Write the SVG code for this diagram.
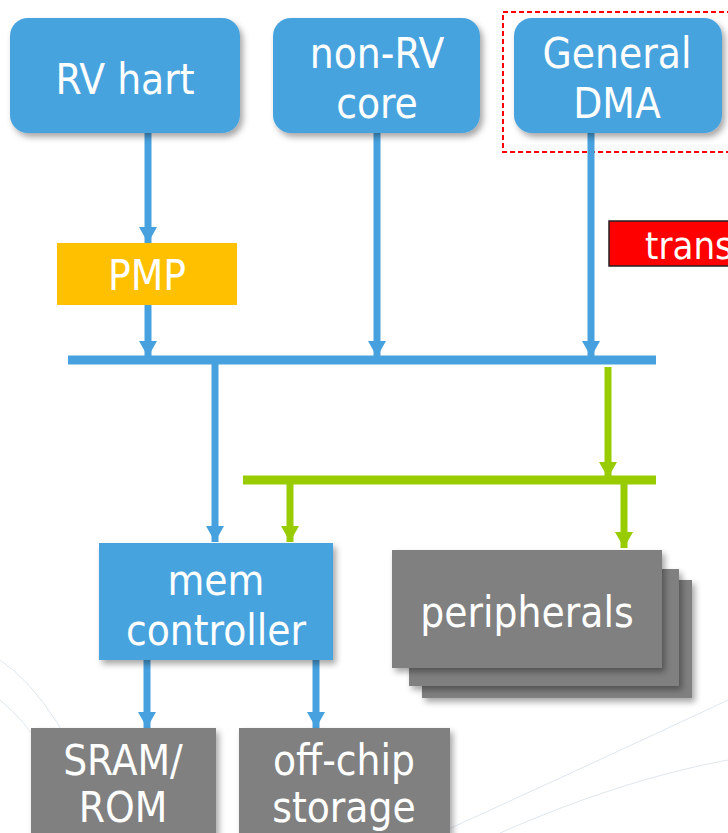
<svg xmlns="http://www.w3.org/2000/svg" width="728" height="833" viewBox="0 0 728 833">
<defs>
<filter id="sh" x="-10%" y="-10%" width="130%" height="130%">
<feDropShadow dx="3" dy="4" stdDeviation="3" flood-color="#000" flood-opacity="0.35"/>
</filter>
<marker id="ab" viewBox="0 0 16 18" refX="16" refY="9" markerWidth="16" markerHeight="18" markerUnits="userSpaceOnUse" orient="auto">
<path d="M0,0 L16,9 L0,18 Z" fill="#47A1DE"/>
</marker>
<marker id="ag" viewBox="0 0 16 18" refX="16" refY="9" markerWidth="16" markerHeight="18" markerUnits="userSpaceOnUse" orient="auto">
<path d="M0,0 L16,9 L0,18 Z" fill="#99CC00"/>
</marker>
<style>
.bl{fill:#47A3DE}
.gr{fill:#808080}
.t{font-family:"DejaVu Sans Condensed","DejaVu Sans",sans-serif;fill:#fff;font-size:42px;text-anchor:middle}
.cb{stroke:#47A1DE;stroke-width:7;fill:none}
.cg{stroke:#99CC00;stroke-width:7;fill:none}
</style>
</defs>
<rect width="728" height="833" fill="#fff"/>
<g id="bg" fill="none" stroke="#dfe7ee" stroke-width="1">
<path d="M0,660 Q60,700 110,833"/>
<path d="M0,700 Q50,740 80,833"/>
<path d="M440,833 Q600,760 728,700"/>
<path d="M500,833 Q620,780 728,760"/>
</g>
<g id="dma-frame">
<rect x="503" y="12" width="240" height="140" fill="none" stroke="#FF0000" stroke-width="2" stroke-dasharray="5,3"/>
</g>
<g id="connectors">
<line class="cb" x1="148" y1="133" x2="148" y2="243" marker-end="url(#ab)"/>
<line class="cb" x1="148" y1="305" x2="148" y2="357" marker-end="url(#ab)"/>
<line class="cb" x1="377" y1="133" x2="377" y2="357" marker-end="url(#ab)"/>
<line class="cb" x1="591" y1="133" x2="591" y2="357" marker-end="url(#ab)"/>
<line x1="68" y1="360" x2="656" y2="360" stroke="#47A1DE" stroke-width="9"/>
<line class="cb" x1="215" y1="364" x2="215" y2="542" marker-end="url(#ab)"/>
<line class="cg" x1="608" y1="367" x2="608" y2="478" marker-end="url(#ag)"/>
<line x1="243" y1="480" x2="656" y2="480" stroke="#99CC00" stroke-width="9"/>
<line class="cg" x1="290" y1="484" x2="290" y2="542" marker-end="url(#ag)"/>
<line class="cg" x1="624" y1="484" x2="624" y2="548" marker-end="url(#ag)"/>
<line class="cb" x1="147" y1="660" x2="147" y2="728" marker-end="url(#ab)"/>
<line class="cb" x1="316" y1="660" x2="316" y2="728" marker-end="url(#ab)"/>
</g>
<g id="rv-hart">
<rect class="bl" x="10" y="18" width="230" height="115" rx="18" filter="url(#sh)"/>
<text class="t" x="125" y="94">RV hart</text>
</g>
<g id="non-rv-core">
<rect class="bl" x="273" y="18" width="207" height="115" rx="18" filter="url(#sh)"/>
<text class="t" x="377" y="68">non-RV</text>
<text class="t" x="377" y="118">core</text>
</g>
<g id="general-dma">
<rect class="bl" x="514" y="18" width="208" height="115" rx="18" filter="url(#sh)"/>
<text class="t" x="617" y="68">General</text>
<text class="t" x="617" y="118">DMA</text>
</g>
<g id="trans">
<rect x="609" y="221" width="140" height="45" fill="#FF0000" stroke="#222" stroke-width="1.5"/>
<text class="t" x="645" y="259" style="text-anchor:start;font-size:38px">trans</text>
</g>
<g id="pmp">
<rect x="57" y="243" width="180" height="62" fill="#FFC000"/>
<text class="t" x="147" y="290">PMP</text>
</g>
<g id="mem-controller">
<rect class="bl" x="99" y="543" width="234" height="117" filter="url(#sh)"/>
<text class="t" x="216" y="595">mem</text>
<text class="t" x="216" y="645">controller</text>
</g>
<g id="peripherals">
<rect class="gr" x="422" y="580" width="270" height="118" filter="url(#sh)"/>
<rect class="gr" x="409" y="569" width="270" height="117" filter="url(#sh)"/>
<rect class="gr" x="392" y="550" width="270" height="118" filter="url(#sh)"/>
<text class="t" x="527" y="627">peripherals</text>
</g>
<g id="sram-rom">
<rect class="gr" x="31" y="728" width="185" height="120" filter="url(#sh)"/>
<text class="t" x="123" y="775">SRAM/</text>
<text class="t" x="123" y="822">ROM</text>
</g>
<g id="off-chip-storage">
<rect class="gr" x="239" y="728" width="211" height="120" filter="url(#sh)"/>
<text class="t" x="344" y="775">off-chip</text>
<text class="t" x="344" y="822">storage</text>
</g>
</svg>
